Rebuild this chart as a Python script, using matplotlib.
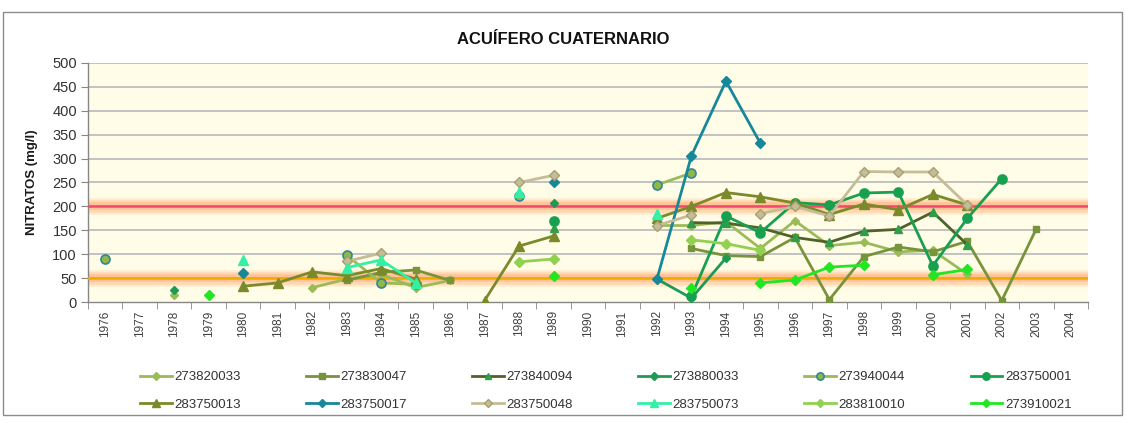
import numpy as np
import matplotlib
matplotlib.use("Agg")
import matplotlib.pyplot as plt
from matplotlib.patches import Rectangle

plt.rcParams['font.family'] = ['Liberation Sans', 'DejaVu Sans']

N = None
years = list(range(1976, 2005))

# Nitrate concentration (mg/l) per well, one value per year (None = no sample)
#                 1976 77 78 79 80 81 82 83 84 85 86 87 88 89 90 91 92 93 94 95 96 97 98 99 2000 01 02 03 04
s273820033 = [N, N, 15, N, N, N, 30, 48, 58, 30, 45, N, N, N, N, N, 160, 160, 168, 112, 170, 118, 125, 105, 108, 58, N, N, N]
s273830047 = [N, N, N, N, N, N, N, 45, 62, 67, 45, N, N, N, N, N, N, 112, 97, 95, 135, 5, 95, 115, 105, 127, 3, 153, N]
s273840094 = [N, N, N, N, N, N, N, N, N, N, N, N, N, 155, N, N, N, 166, 165, 155, 135, 125, 148, 152, 188, 120, N, N, N]
s273880033 = [N, N, 25, N, N, N, N, N, N, N, N, N, N, 207, N, N, 48, 8, 92, N, N, N, N, N, N, N, N, N, N]
s273940044 = [90, N, N, N, N, N, N, 98, 40, 37, N, N, 222, N, N, N, 245, 270, N, N, N, N, N, N, N, N, N, N, N]
s283750001 = [N, N, N, N, N, N, N, N, N, N, N, N, N, 170, N, N, N, 12, 180, 145, 208, 203, 228, 230, 76, 175, 258, N, N]
s283750013 = [N, N, N, N, 33, 40, 63, 55, 70, 48, N, 3, 117, 138, N, N, 175, 200, 229, 220, 207, 183, 205, 193, 225, 203, N, N, N]
s283750017 = [N, N, N, N, 60, N, N, N, N, N, N, N, N, 250, N, N, 48, 306, 462, 332, N, N, N, N, N, N, N, N, N]
s283750048 = [N, N, N, N, N, N, N, 85, 102, N, N, N, 250, 265, N, N, 160, 182, N, 185, 200, 180, 273, 272, 272, 203, N, N, N]
s283750073 = [N, N, N, N, 88, N, N, 72, 88, 40, N, N, 230, N, N, N, 185, N, N, N, N, N, N, N, N, N, N, N, N]
s283810010 = [N, N, N, N, N, N, N, N, N, N, N, N, 84, 90, N, N, N, 130, 122, 108, N, N, N, N, N, N, N, N, N]
s273910021 = [N, N, N, 15, N, N, N, N, N, N, N, N, N, 55, N, N, N, 30, N, 40, 46, 73, 77, N, 57, 68, N, N, N]

# guide levels
limit_high = 200
limit_low = 50

# (label, values, colour, marker, marker size, marker face, marker edge)
series = [
    ("273820033", s273820033, "#9BBB59", "D", 4.5, "#9BBB59", "#9BBB59"),
    ("273830047", s273830047, "#77933C", "s", 5.0, "#77933C", "#77933C"),
    ("273840094", s273840094, "#4F6228", "^", 5.5, "#2E9E48", "#2E9E48"),
    ("273880033", s273880033, "#1E9A55", "D", 4.5, "#1E9A55", "#1E9A55"),
    ("273940044", s273940044, "#9BBB59", "o", 6.5, "#8DB84A", "#31859C"),
    ("283750001", s283750001, "#17A050", "o", 6.5, "#17A050", "#17A050"),
    ("283750013", s283750013, "#7A8A2A", "^", 6.5, "#7A8A2A", "#7A8A2A"),
    ("283750017", s283750017, "#17879A", "D", 5.0, "#17879A", "#17879A"),
    ("283750048", s283750048, "#C4BD97", "D", 5.5, "#C4BD97", "#A8A070"),
    ("283750073", s283750073, "#33F0A5", "^", 7.0, "#33F0A5", "#33F0A5"),
    ("283810010", s283810010, "#92D050", "D", 5.5, "#92D050", "#92D050"),
    ("273910021", s273910021, "#22E622", "D", 5.5, "#22E622", "#22E622"),
]

W, H = 1126, 423
fig = plt.figure(figsize=(W / 100, H / 100), dpi=100)
fig.patch.set_facecolor("white")

# outer chart border
fig.add_artist(Rectangle((3 / W, 1 - 415 / H), 1119 / W, 403 / H,
                         transform=fig.transFigure, fill=False,
                         edgecolor="#8C8C8C", lw=1.0))

ax = fig.add_axes([88 / W, 1 - 302 / H, 1000 / W, 239 / H])
ax.set_facecolor("#FFFDE8")

x = np.arange(len(years))

# horizontal gridlines
for v in range(50, 501, 50):
    ax.axhline(v, color="#BDBDBD", lw=1.3, zorder=1)

# glowing guide lines
for level, core in ((limit_high, "#F24A6E"), (limit_low, "#F2A900")):
    for lw, a in ((12, 0.18), (9, 0.25), (5.5, 0.35)):
        ax.axhline(level, color="#FFA060", lw=lw, alpha=a, zorder=2,
                   solid_capstyle="butt")
    ax.axhline(level, color=core, lw=1.8, zorder=3)

handles = []
for label, vals, col, mk, ms, mfc, mec in series:
    y = np.array([np.nan if v is None else v for v in vals], dtype=float)
    h, = ax.plot(x, y, color=col, lw=2.0, marker=mk, ms=ms,
                 mfc=mfc, mec=mec, mew=1.2 if mk == "o" else 1.0,
                 label=label, zorder=4)
    handles.append(h)

ax.set_xlim(-0.5, len(years) - 0.5)
ax.set_ylim(0, 500)
ax.set_yticks(range(0, 501, 50))
ax.set_yticklabels([str(v) for v in range(0, 501, 50)], fontsize=10.5,
                   color="#333333")
ax.set_xticks(x)
ax.set_xticklabels([str(yv) for yv in years], rotation=90, fontsize=8.5,
                   color="#404040")
ax.set_xticks(np.arange(-0.5, len(years), 1), minor=True)
ax.tick_params(axis="x", which="major", length=0, pad=6)
ax.tick_params(axis="x", which="minor", length=5, color="#868686")
ax.tick_params(axis="y", length=5, color="#868686", pad=3)

for side in ("top", "right"):
    ax.spines[side].set_visible(False)
for side in ("left", "bottom"):
    ax.spines[side].set_color("#868686")
    ax.spines[side].set_linewidth(1.0)

ax.set_ylabel("NITRATOS (mg/l)", fontsize=9.5, fontweight="bold",
              color="#1A1A1A", labelpad=10)

fig.text(0.5, 1 - 40 / H, "ACUÍFERO CUATERNARIO",
         family=["Liberation Sans Narrow", "Liberation Sans", "DejaVu Sans"],
         fontsize=12, fontweight="bold", ha="center", va="center",
         color="#111111")

# legend filled row by row (2 rows x 6 columns)
ncol = 6
order = []
for c in range(ncol):
    order.append(c)
    order.append(c + ncol)
leg = fig.legend([handles[i] for i in order], [series[i][0] for i in order],
                 ncol=ncol, loc="center", bbox_to_anchor=(0.538, 1 - 391 / H),
                 frameon=False, fontsize=9.5, handlelength=2.4,
                 handletextpad=0.2, columnspacing=4.95, labelspacing=1.15,
                 markerscale=0.8)
for t in leg.get_texts():
    t.set_color("#333333")

fig.savefig("out.png", dpi=100)
